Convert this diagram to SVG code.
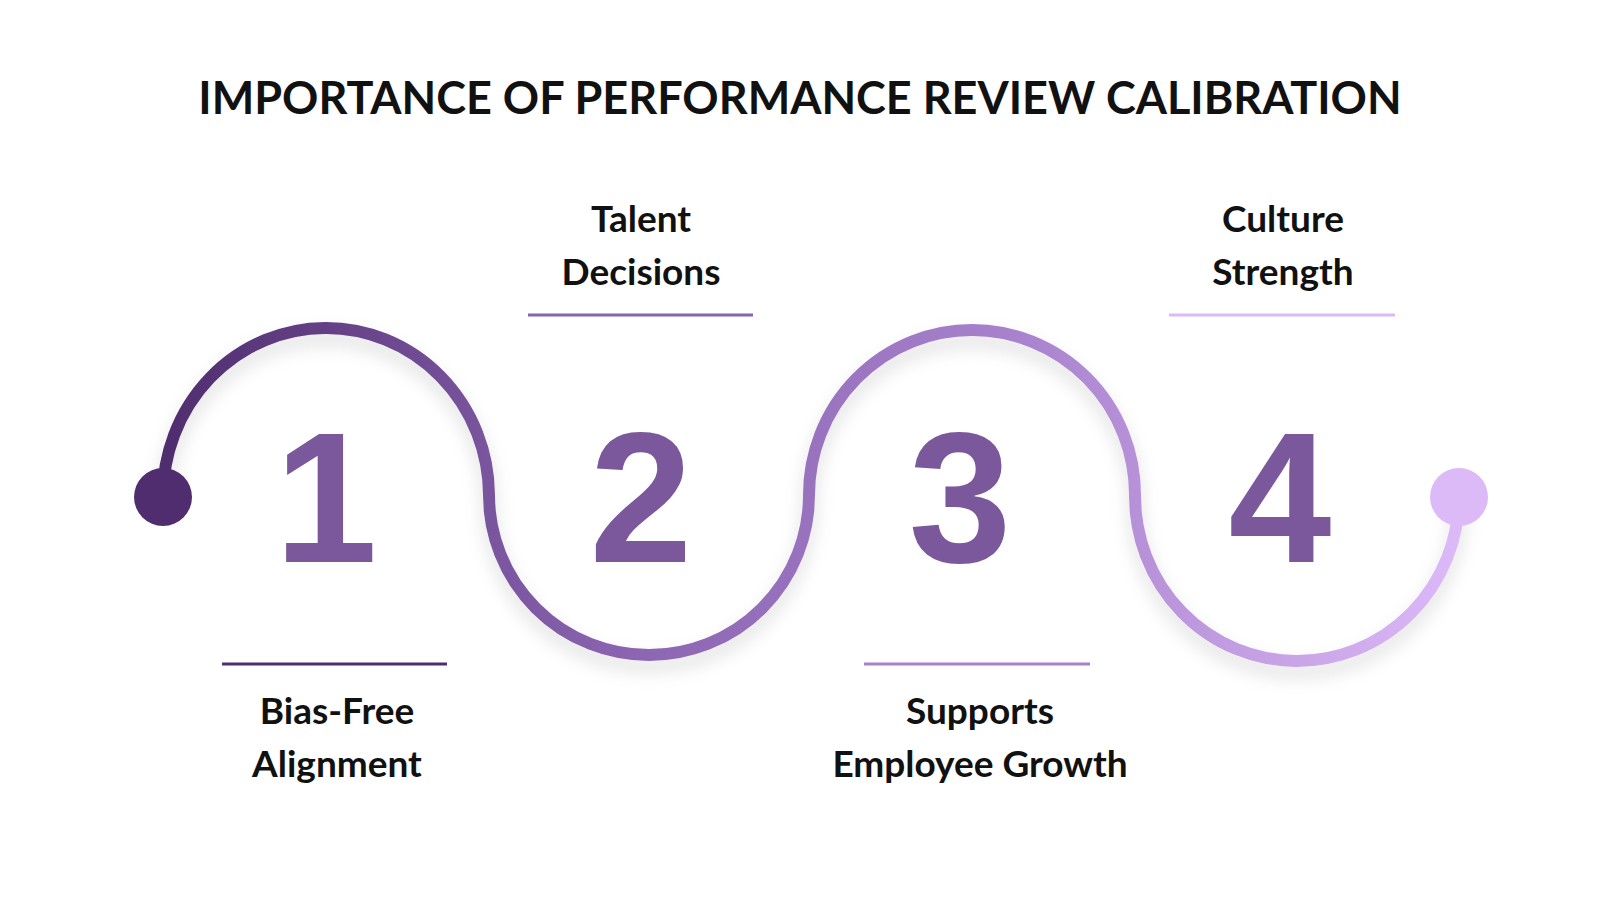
<svg xmlns="http://www.w3.org/2000/svg" width="1600" height="900" viewBox="0 0 1600 900">
<defs>
<linearGradient id="g" x1="163" y1="0" x2="1459" y2="0" gradientUnits="userSpaceOnUse">
<stop offset="0" stop-color="#4f2d6e"/><stop offset="0.35" stop-color="#8a64b0"/><stop offset="0.65" stop-color="#a781cc"/><stop offset="1" stop-color="#dcb9f7"/>
</linearGradient>
<filter id="sh" x="-10%" y="-20%" width="120%" height="140%"><feDropShadow dx="0" dy="10" stdDeviation="9" flood-color="#000" flood-opacity="0.13"/></filter>
</defs>
<style>
.t{font-family:Lato,"Noto Sans",sans-serif;font-weight:700;font-size:37px;fill:#111;text-anchor:middle}
.n{font-family:"Liberation Sans",Arial,sans-serif;font-weight:900;font-size:185px;fill:#7b579b;text-anchor:middle}
.l{stroke-width:3}
</style>
<rect width="1600" height="900" fill="#fff"/>
<text x="800" y="114" style="font-family:Lato,'Noto Sans',sans-serif;font-weight:700;font-size:45px;fill:#111;text-anchor:middle">IMPORTANCE OF PERFORMANCE REVIEW CALIBRATION</text>
<g id="connectors">
<path d="M163 497 A163 168 0 0 1 489 495 A160 160 0 0 0 809 495 A163 165 0 0 1 1135 495 A162 165 0 0 0 1459 497" fill="none" stroke="url(#g)" stroke-width="12" filter="url(#sh)"/>
<circle cx="163" cy="497" r="29" fill="#4f2d6e"/>
<circle cx="1459" cy="497" r="29" fill="#dcb9f7"/>
</g>
<g id="n1"><text class="n" x="326" y="562">1</text><line class="l" x1="222" y1="664" x2="447" y2="664" stroke="#4f2d6e"/><text class="t" x="337" y="724">Bias-Free</text><text class="t" x="337" y="777">Alignment</text></g>
<g id="n2"><text class="n" x="641" y="562">2</text><line class="l" x1="528" y1="315" x2="753" y2="315" stroke="#8a64b0"/><text class="t" x="641" y="232">Talent</text><text class="t" x="641" y="285">Decisions</text></g>
<g id="n3"><text class="n" x="960" y="562">3</text><line class="l" x1="864" y1="664" x2="1090" y2="664" stroke="#a781cc"/><text class="t" x="980" y="724">Supports</text><text class="t" x="980" y="777">Employee Growth</text></g>
<g id="n4"><text class="n" x="1280" y="562">4</text><line class="l" x1="1169" y1="315" x2="1395" y2="315" stroke="#dcb9f7"/><text class="t" x="1283" y="232">Culture</text><text class="t" x="1283" y="285">Strength</text></g>
</svg>
